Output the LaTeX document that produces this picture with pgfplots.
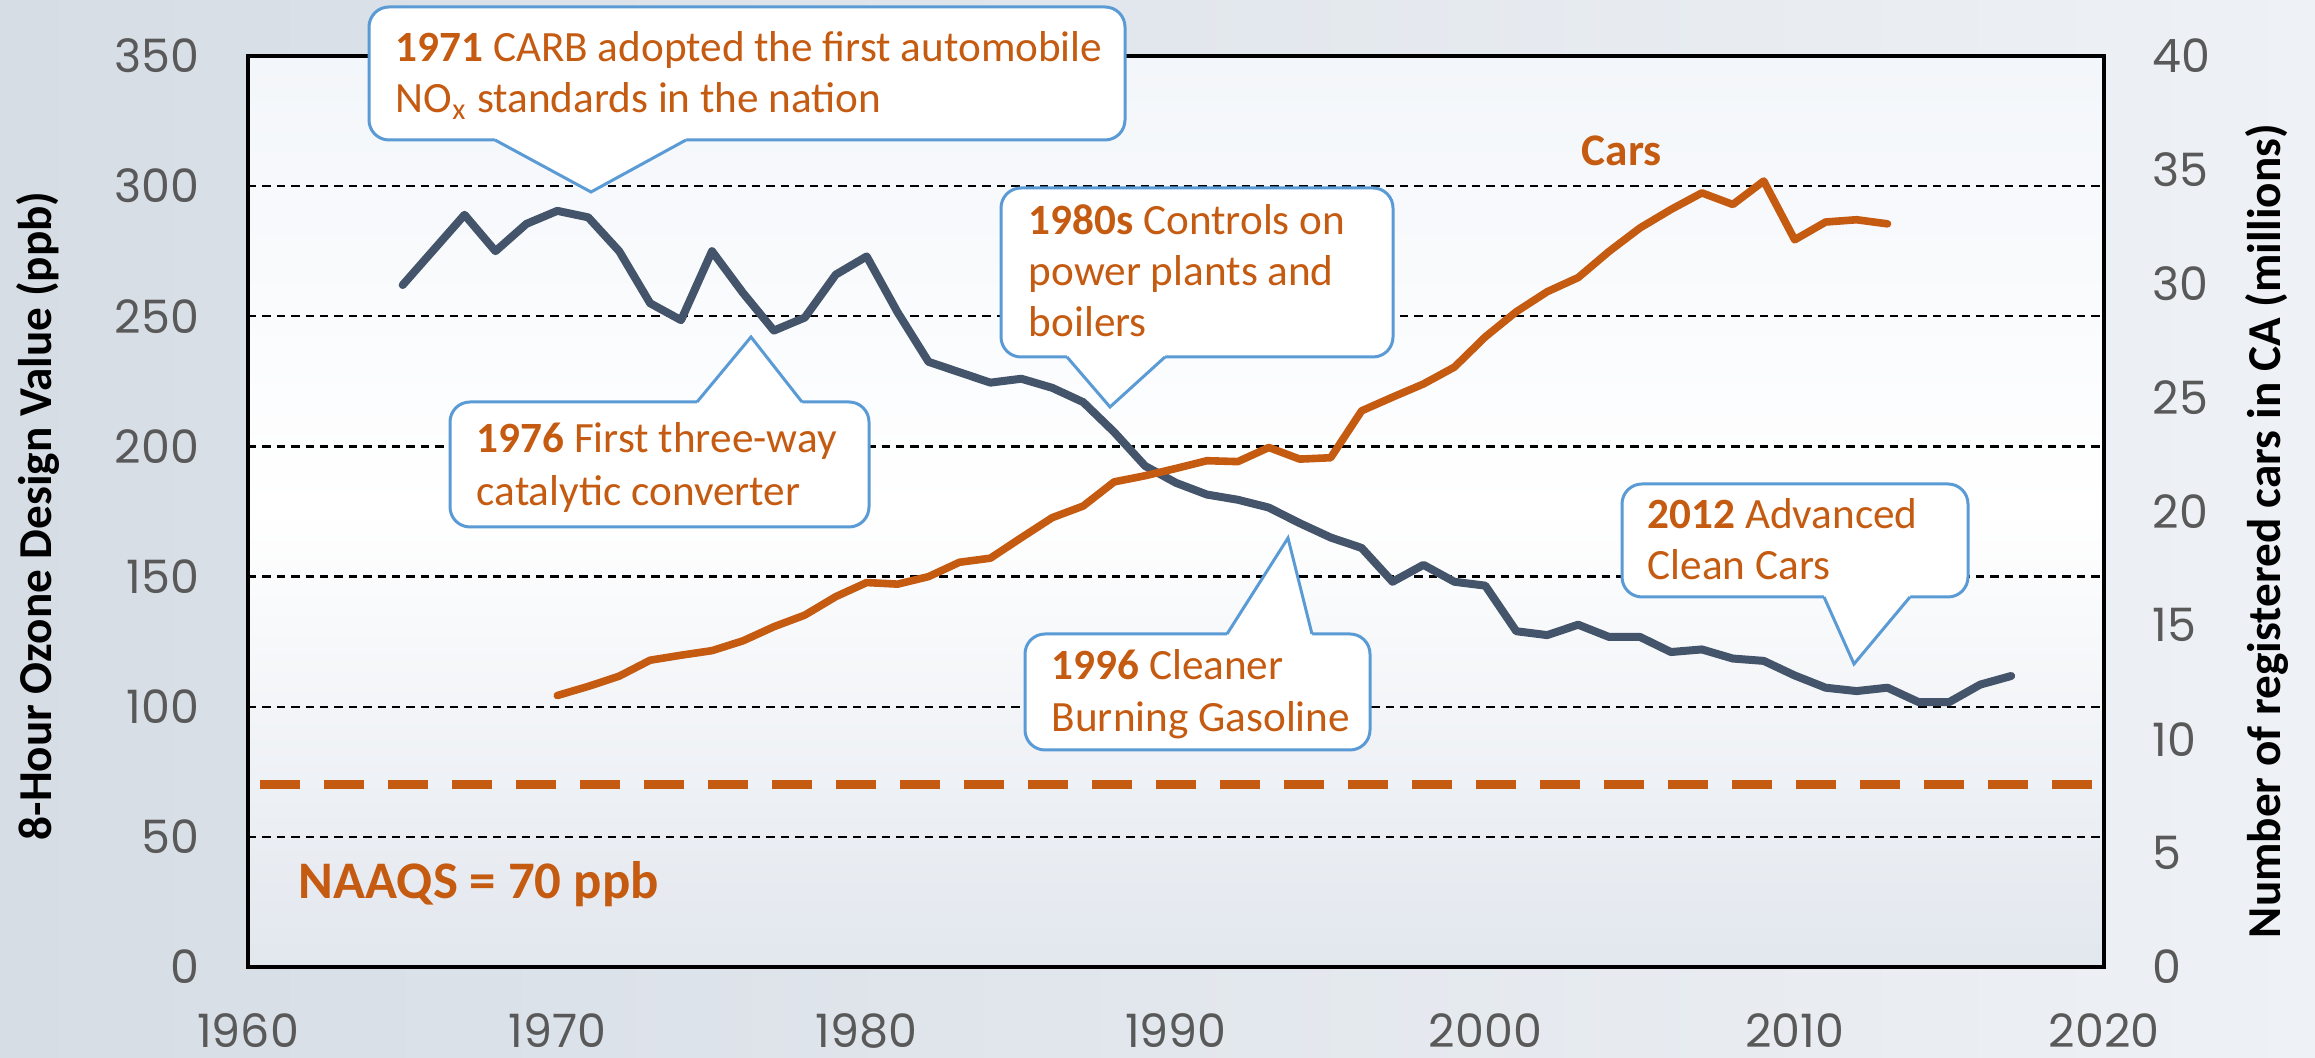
\documentclass[border=0pt]{standalone}
\usepackage{fontspec}
\setmainfont{Carlito}
\newfontfamily\tickfont{Poppins}
\usepackage{pgfplots}
\pgfplotsset{compat=1.18}
\definecolor{ozone}{HTML}{44546A}
\definecolor{cars}{HTML}{C55A11}
\definecolor{callout}{HTML}{5B9BD5}
\definecolor{tickgray}{HTML}{595959}
\definecolor{bgL}{HTML}{D6DDE5}
\definecolor{bgR}{HTML}{EEF1F5}
\definecolor{plotT}{HTML}{F3F6FA}
\definecolor{plotB}{HTML}{E2E7EE}
\tikzset{ann/.style={anchor=base west, inner sep=0pt, text=cars, font=\fontsize{10.8}{13}\selectfont}}
\begin{document}
\begin{tikzpicture}
\useasboundingbox (0,0) rectangle (578.75pt,264.5pt);
\shade[left color=bgL, right color=bgR] (0,0) rectangle (578.75pt,264.5pt);
\shade[top color=plotT, bottom color=plotB, middle color=white] (62pt,22.75pt) rectangle (526pt,250.5pt);
\begin{axis}[
  at={(62pt,22.75pt)}, anchor=south west,
  scale only axis, width=464pt, height=227.75pt,
  xmin=1960, xmax=2020, ymin=0, ymax=350,
  xtick={1960,1970,...,2020}, ytick={0,50,...,350},
  major tick length=0pt,
  ymajorgrids,
  grid style={black, line width=0.6pt, dash pattern=on 2.1pt off 1.5pt},
  axis line style={black, line width=1.2pt},
  /pgf/number format/assume math mode=true,
  /pgf/number format/1000 sep={},
  tick label style={font=\tickfont\fontsize{11.5}{12}\selectfont, text=tickgray, inner sep=0pt},
  xticklabel style={yshift=-11.5pt},
  yticklabel style={xshift=-12pt},
]
\addplot[cars, line width=2.25pt, dash pattern=on 10pt off 6pt, dash phase=13pt] coordinates {(1960,70) (2020,70)};
\addplot[ozone, line width=2pt, line join=round, line cap=round] coordinates {
(1965,262) (1967,289) (1968,275) (1969,285.5) (1970,290.5) (1971,288) (1972,275)
(1973,255) (1974,248.5) (1975,275) (1976,259) (1977,244.5) (1978,249.5) (1979,266)
(1980,273) (1981,251.5) (1982,232.5) (1983,228.5) (1984,224.5) (1985,226) (1986,222.5)
(1987,217) (1988,205.5) (1989,192.5) (1990,186) (1991,181.5) (1992,179.5) (1993,176.5)
(1994,170.5) (1995,165) (1996,161) (1997,148) (1998,154.5) (1999,148) (2000,146.5)
(2001,129) (2002,127.5) (2003,131.5) (2004,126.8) (2005,126.8) (2006,121) (2007,122)
(2008,118.5) (2009,117.6) (2010,112) (2011,107.3) (2012,106) (2013,107.3) (2014,101.8)
(2015,101.8) (2016,108.5) (2017,111.8)};
\end{axis}
\begin{axis}[
  at={(62pt,22.75pt)}, anchor=south west,
  scale only axis, width=464pt, height=227.75pt,
  xmin=1960, xmax=2020, ymin=0, ymax=40,
  axis x line=none, axis y line*=right,
  ytick={0,5,...,40},
  major tick length=0pt,
  axis line style={black, line width=1.2pt},
  /pgf/number format/assume math mode=true,
  tick label style={font=\tickfont\fontsize{11.5}{12}\selectfont, text=tickgray, inner sep=0pt},
  yticklabel style={xshift=12pt},
]
\addplot[cars, line width=1.9pt, line join=round, line cap=round] coordinates {
(1970,11.92) (1971,12.32) (1972,12.77) (1973,13.47) (1974,13.69) (1975,13.89)
(1976,14.32) (1977,14.94) (1978,15.45) (1979,16.26) (1980,16.88) (1981,16.81)
(1982,17.14) (1983,17.77) (1984,17.95) (1985,18.85) (1986,19.73) (1987,20.24)
(1988,21.30) (1989,21.57) (1990,21.89) (1991,22.23) (1992,22.19) (1993,22.81)
(1994,22.30) (1995,22.36) (1996,24.42) (1997,25.02) (1998,25.60) (1999,26.34)
(2000,27.67) (2001,28.77) (2002,29.65) (2003,30.27) (2004,31.42) (2005,32.45)
(2006,33.26) (2007,33.99) (2008,33.48) (2009,34.51) (2010,31.93) (2011,32.71)
(2012,32.81) (2013,32.63)};
\end{axis}
\begin{scope}[x=0.25pt, y=-0.25pt, yshift=264.5pt]
% axis titles
\node[rotate=90, font=\bfseries\fontsize{11.8}{14}\selectfont] at (38,516) {8-Hour Ozone Design Value (ppb)};
\node[rotate=90, font=\bfseries\fontsize{11.8}{14}\selectfont] at (2267,531) {Number of registered cars in CA (millions)};
\node[anchor=base west, inner sep=0pt, text=cars, font=\bfseries\fontsize{11.3}{13}\selectfont] at (1581,166) {Cars};
\node[anchor=base west, inner sep=0pt, text=cars, font=\bfseries\fontsize{13.2}{15}\selectfont] at (298,899) {NAAQS = 70 ppb};
% callout 1971
\filldraw[fill=white, draw=callout, line width=0.75pt, rounded corners=5pt] (369,7) rectangle (1125,140);
\fill[white] (495,134) -- (495,140) -- (591,192) -- (686,140) -- (686,134) -- cycle;
\draw[callout, line width=0.75pt] (495,140) -- (591,192) -- (686,140);
\node[ann] at (395,62) {\textbf{1971} CARB adopted the first automobile};
\node[ann] at (395,113) {NO\textsubscript{x} standards in the nation};
% callout 1976
\filldraw[fill=white, draw=callout, line width=0.75pt, rounded corners=5pt] (450,402) rectangle (869,527);
\fill[white] (697,408) -- (697,402) -- (751,337) -- (802,402) -- (802,408) -- cycle;
\draw[callout, line width=0.75pt] (697,402) -- (751,337) -- (802,402);
\node[ann] at (476,453) {\textbf{1976} First three-way};
\node[ann] at (476,506) {catalytic converter};
% callout 1980s
\filldraw[fill=white, draw=callout, line width=0.75pt, rounded corners=5pt] (1001,188) rectangle (1393,357);
\fill[white] (1067,351) -- (1067,357) -- (1110,407) -- (1165,357) -- (1165,351) -- cycle;
\draw[callout, line width=0.75pt] (1067,357) -- (1110,407) -- (1165,357);
\node[ann] at (1028,235) {\textbf{1980s} Controls on};
\node[ann] at (1028,286) {power plants and};
\node[ann] at (1028,337) {boilers};
% callout 1996
\filldraw[fill=white, draw=callout, line width=0.75pt, rounded corners=5pt] (1025,634) rectangle (1370,750);
\fill[white] (1227,640) -- (1227,634) -- (1288,538) -- (1312,634) -- (1312,640) -- cycle;
\draw[callout, line width=0.75pt] (1227,634) -- (1288,538) -- (1312,634);
\node[ann] at (1051,680) {\textbf{1996} Cleaner};
\node[ann] at (1051,732) {Burning Gasoline};
% callout 2012
\filldraw[fill=white, draw=callout, line width=0.75pt, rounded corners=5pt] (1622,484) rectangle (1968,597);
\fill[white] (1824,591) -- (1824,597) -- (1854,664) -- (1910,597) -- (1910,591) -- cycle;
\draw[callout, line width=0.75pt] (1824,597) -- (1854,664) -- (1910,597);
\node[ann] at (1647,529) {\textbf{2012} Advanced};
\node[ann] at (1647,580) {Clean Cars};
\end{scope}
\end{tikzpicture}
\end{document}
